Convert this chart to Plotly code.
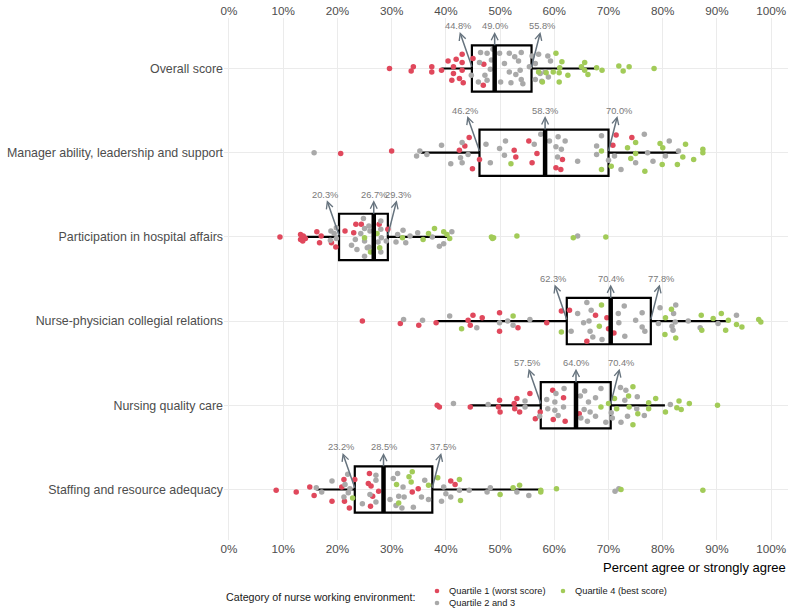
import plotly.graph_objects as go

# ---------------- data ----------------
categories = [
    "Overall score",
    "Manager ability, leadership and support",
    "Participation in hospital affairs",
    "Nurse-physician collegial relations",
    "Nursing quality care",
    "Staffing and resource adequacy",
]
row_pos = [1, 2, 3, 4, 5, 6]

q1_vals = [44.8, 46.2, 20.3, 62.3, 57.5, 23.2]
median_vals = [49.0, 58.3, 26.7, 70.4, 64.0, 28.5]
q3_vals = [55.8, 70.0, 29.3, 77.8, 70.4, 37.5]
whisker_low = [39.2, 35.4, 13.7, 38.2, 44.5, 16.1]
whisker_high = [67.5, 82.9, 40.7, 92.0, 80.4, 57.3]

tick_vals = list(range(0, 101, 10))
tick_text = [f"{v}%" for v in tick_vals]

group_names = ["Quartile 1 (worst score)", "Quartile 2 and 3", "Quartile 4 (best score)"]
group_colors = ["#E0485C", "#A9A9A9", "#A2CB58"]

# hospital points: (percent, vertical jitter in row units)
overall_q1 = [(29.6, 0.00), (33.6, 0.03), (34.0, -0.02), (37.4, -0.02), (37.4, 0.04), (39.2, 0.02),
              (40.4, -0.09), (41.4, -0.02), (41.9, -0.11), (43.0, -0.17), (43.0, -0.07), (41.4, 0.06),
              (43.0, 0.02), (41.1, 0.14), (42.5, 0.12), (43.2, 0.17), (45.0, -0.12), (47.0, -0.05),
              (46.9, 0.20)]
overall_q23 = [(46.4, -0.19), (47.6, -0.18), (48.4, -0.10), (46.2, -0.07), (48.2, 0.01), (47.2, 0.08),
               (46.0, 0.16), (47.6, 0.14), (48.7, -0.23), (49.9, -0.18), (50.8, -0.06), (51.7, -0.18),
               (52.7, -0.14), (53.9, -0.19), (53.4, -0.09), (51.7, 0.04), (52.9, 0.07), (53.7, 0.02),
               (53.9, 0.13), (52.0, 0.17), (50.1, 0.16), (54.2, 0.18), (55.4, -0.02), (55.9, -0.15),
               (57.1, -0.17), (56.5, -0.06), (57.4, 0.06), (58.3, 0.04), (58.8, -0.15), (59.3, -0.09),
               (58.9, 0.10), (57.7, 0.15), (56.5, 0.13), (44.7, 0.08)]
overall_q4 = [(60.3, -0.18), (61.4, -0.08), (61.0, -0.01), (57.1, 0.04), (58.5, 0.05), (59.8, 0.04),
              (60.9, 0.05), (62.5, 0.08), (57.8, 0.16), (60.9, 0.16), (65.0, -0.02), (65.6, -0.07),
              (65.6, 0.02), (66.2, 0.07), (67.8, -0.01), (68.8, 0.02), (71.9, -0.03), (72.7, 0.03),
              (73.8, -0.02), (78.4, 0.00)]

manager_q1 = [(20.6, 0.01), (30.0, -0.02), (44.3, -0.18), (43.5, -0.08), (42.5, -0.03), (44.9, 0.19),
              (46.2, 0.08), (52.6, -0.03), (52.9, 0.05), (55.3, -0.14), (56.8, 0.01), (55.9, 0.12),
              (61.5, 0.08), (60.3, 0.18), (61.2, 0.20), (71.4, -0.21), (70.8, -0.09), (74.3, -0.18)]
manager_q23 = [(15.7, 0.00), (35.2, -0.02), (34.6, 0.04), (36.5, 0.02), (39.2, -0.09), (40.9, 0.13),
               (43.0, -0.12), (42.7, 0.06), (43.0, 0.12), (44.1, 0.02), (47.4, -0.10), (48.2, 0.12),
               (49.9, -0.05), (51.0, -0.14), (50.8, 0.03), (56.3, -0.10), (57.5, -0.22), (59.1, -0.14),
               (60.7, -0.19), (60.3, -0.07), (61.3, -0.04), (62.0, -0.14), (60.6, 0.05), (64.3, 0.10),
               (67.8, -0.08), (68.7, -0.20), (67.8, 0.02), (70.0, 0.09), (71.1, 0.04), (72.3, 0.20),
               (75.0, 0.12), (76.6, -0.22), (77.2, 0.00), (78.2, 0.10), (80.5, 0.04), (81.2, -0.14),
               (82.9, -0.02)]
manager_q4 = [(52.0, 0.13), (68.7, -0.02), (68.7, 0.20), (70.5, 0.16), (73.5, -0.06), (75.0, -0.12),
              (74.1, 0.07), (75.0, 0.01), (76.7, 0.22), (79.5, -0.11), (80.0, -0.06), (79.9, 0.14),
              (82.7, 0.14), (83.7, 0.05), (84.2, -0.10), (85.7, 0.08), (87.4, -0.04), (87.4, 0.00)]

particip_q1 = [(9.4, 0.00), (13.2, -0.03), (13.2, 0.03), (13.7, -0.01), (14.1, 0.02), (13.6, 0.05),
               (16.2, -0.06), (17.0, -0.01), (16.7, 0.07), (18.9, 0.07), (19.7, 0.12), (21.4, -0.07),
               (23.0, -0.05), (23.4, -0.15), (24.4, -0.15), (27.7, -0.15), (29.3, -0.09)]
particip_q23 = [(18.8, -0.07), (18.7, 0.04), (19.4, -0.04), (19.8, -0.11), (19.8, 0.02), (22.6, 0.10),
                (23.6, 0.15), (23.3, 0.03), (24.3, -0.04), (24.8, -0.22), (25.0, -0.10), (25.8, -0.13),
                (26.0, -0.07), (25.0, 0.05), (25.5, 0.13), (25.0, 0.23), (25.8, 0.12), (27.5, 0.06),
                (28.0, -0.19), (28.0, -0.09), (28.1, 0.01), (29.0, 0.05), (28.0, 0.18), (30.8, 0.06),
                (31.1, -0.03), (32.1, -0.08), (32.6, 0.07), (33.4, -0.01), (34.8, -0.05), (37.5, 0.00),
                (38.8, 0.11), (39.6, 0.08), (41.1, -0.06), (64.3, -0.01)]
particip_q4 = [(25.0, 0.01), (27.3, -0.04), (26.1, 0.18), (27.8, 0.13), (32.0, 0.01), (35.8, 0.03),
               (36.8, -0.04), (37.9, -0.10), (39.6, -0.06), (40.2, -0.03), (40.7, 0.02), (48.4, 0.00),
               (48.6, 0.02), (48.8, 0.01), (53.1, -0.01), (63.5, 0.01), (69.5, 0.00)]

physician_q1 = [(24.6, 0.00), (31.6, 0.03), (35.0, 0.05), (38.2, 0.02), (44.1, -0.01), (45.0, -0.07),
                (44.5, 0.05), (46.7, -0.04), (49.9, -0.10), (49.9, 0.12), (53.3, 0.08), (58.6, 0.02),
                (61.3, -0.12), (62.8, -0.13), (67.6, -0.07), (69.7, -0.04), (70.0, 0.09), (71.0, 0.14),
                (66.0, 0.24)]
physician_q23 = [(32.2, -0.02), (35.7, -0.01), (40.7, -0.06), (45.7, 0.08), (49.9, 0.02), (51.4, 0.00),
                 (52.4, 0.05), (55.5, -0.02), (63.1, 0.12), (64.3, -0.09), (65.4, 0.02), (66.0, -0.22),
                 (66.4, 0.00), (66.8, -0.13), (66.6, 0.12), (67.1, 0.19), (68.8, 0.22), (71.9, 0.02),
                 (72.9, -0.18), (71.8, -0.09), (73.0, 0.18), (75.0, -0.01), (76.2, -0.10), (76.2, 0.07),
                 (76.7, 0.12), (79.2, 0.03), (79.5, -0.16), (82.0, -0.09), (82.3, 0.01), (81.7, 0.06),
                 (81.9, 0.11), (82.4, -0.19), (84.7, 0.00), (86.9, 0.08), (90.2, 0.03), (93.6, -0.07)]
physician_q4 = [(42.9, 0.09), (52.4, -0.06), (61.3, 0.13), (68.7, -0.19), (68.3, 0.06), (80.4, 0.16),
                (80.5, -0.04), (81.6, -0.14), (82.4, 0.20), (87.1, -0.07), (87.2, 0.11), (89.3, -0.03),
                (90.8, -0.09), (91.6, 0.11), (92.1, -0.01), (93.6, 0.04), (94.6, 0.07), (97.7, -0.02),
                (98.1, 0.01)]

quality_q1 = [(38.4, 0.00), (38.8, 0.02), (44.5, 0.02), (49.9, -0.06), (49.7, 0.02), (50.0, 0.08),
              (52.6, -0.02), (53.1, -0.08), (52.7, 0.04), (53.6, 0.08), (55.5, -0.14), (56.5, 0.16),
              (57.4, 0.08), (59.7, -0.18), (61.7, -0.09), (59.8, 0.17), (62.0, 0.19), (64.6, 0.10)]
quality_q23 = [(41.4, -0.02), (47.8, -0.01), (54.6, -0.05), (54.6, 0.02), (57.3, 0.13), (58.6, -0.07),
               (58.8, 0.04), (60.3, -0.14), (61.8, -0.20), (60.1, -0.04), (60.1, 0.06), (60.7, 0.12),
               (61.7, 0.02), (64.8, -0.11), (65.6, -0.17), (66.3, -0.04), (65.5, 0.05), (66.6, 0.08),
               (67.6, -0.09), (68.6, -0.20), (67.6, 0.13), (66.1, 0.19), (69.5, 0.20), (64.9, 0.15),
               (70.5, 0.09), (70.7, 0.15), (72.2, -0.21), (73.2, -0.18), (73.0, -0.06), (72.3, 0.20),
               (73.5, 0.13), (75.3, -0.10), (75.2, 0.04), (76.6, 0.12), (81.4, -0.01)]
quality_q4 = [(68.6, 0.02), (70.0, -0.02), (71.1, -0.08), (71.5, 0.04), (73.7, -0.11), (74.5, -0.22),
              (73.8, 0.02), (74.5, 0.23), (75.4, 0.10), (77.4, -0.03), (77.4, 0.04), (78.7, -0.08),
              (80.5, 0.08), (83.0, -0.05), (82.6, 0.03), (83.4, 0.05), (84.9, -0.02), (90.1, 0.00)]

staffing_q1 = [(8.7, 0.01), (12.4, 0.03), (14.9, -0.03), (15.7, 0.07), (19.0, 0.14), (20.8, -0.03),
               (21.2, -0.12), (21.3, 0.14), (22.2, 0.22), (23.2, -0.12), (25.9, -0.19), (25.7, -0.07),
               (26.2, -0.04), (26.5, 0.08), (27.6, 0.02), (26.1, 0.20), (33.8, 0.03), (34.9, -0.01),
               (40.9, -0.10), (41.7, -0.06)]
staffing_q23 = [(16.1, -0.02), (17.1, 0.03), (19.0, -0.10), (21.4, -0.06), (21.9, -0.18), (22.0, 0.04),
                (21.2, 0.09), (22.3, -0.01), (24.6, 0.17), (27.1, -0.17), (27.1, -0.11), (27.1, 0.15),
                (26.0, 0.06), (30.3, -0.13), (31.1, -0.19), (32.1, -0.03), (29.7, 0.12), (30.8, 0.19),
                (31.3, 0.08), (31.9, 0.22), (34.0, 0.21), (32.3, 0.09), (35.5, 0.09), (36.1, -0.11),
                (36.8, 0.12), (39.2, 0.14), (39.6, -0.03), (40.0, 0.05), (40.9, 0.09), (42.5, 0.01),
                (44.3, 0.01), (47.6, 0.03), (48.2, -0.02), (53.1, 0.03), (55.3, 0.07), (71.2, 0.02),
                (71.9, -0.01)]
staffing_q4 = [(22.8, 0.10), (30.9, -0.06), (33.2, -0.15), (33.8, -0.21), (33.6, -0.09), (31.3, 0.16),
               (36.8, -0.05), (38.5, -0.14), (42.5, -0.12), (42.7, 0.13), (50.0, 0.06), (52.4, -0.02),
               (53.6, -0.05), (57.5, 0.01), (57.5, 0.03), (60.4, -0.01), (72.3, 0.00), (87.4, 0.01)]

points_by_row = [
    (overall_q1, overall_q23, overall_q4),
    (manager_q1, manager_q23, manager_q4),
    (particip_q1, particip_q23, particip_q4),
    (physician_q1, physician_q23, physician_q4),
    (quality_q1, quality_q23, quality_q4),
    (staffing_q1, staffing_q23, staffing_q4),
]

# ---------------- style / layout ----------------
FONT = "Liberation Sans, Arial, sans-serif"
BOX_W = 0.55
TEXT_GREY = "#4D4D4D"
GRID = "#EBEBEB"
ARROW_COL = "#66737E"
LABEL_COL = "#7A7A7A"
W, H = 790, 609
ML, MR, MT, MB = 224, 2, 18, 69
PW, PH = W - ML - MR, H - MT - MB


def px_to_paper(px, py):
    return (px - ML) / PW, (H - MB - py) / PH


fig = go.Figure()

# jittered hospital points
for g in range(3):
    xs, ys = [], []
    for r, rowpts in enumerate(points_by_row):
        for (v, dy) in rowpts[g]:
            xs.append(v)
            ys.append(row_pos[r] + dy)
    fig.add_trace(go.Scatter(
        x=xs, y=ys, mode="markers", name=group_names[g],
        marker=dict(color=group_colors[g], size=5.5, line=dict(width=0)),
        showlegend=False, hoverinfo="skip",
    ))

# boxes (precomputed stats)
fig.add_trace(go.Box(
    y=row_pos, q1=q1_vals, median=median_vals, q3=q3_vals,
    lowerfence=whisker_low, upperfence=whisker_high,
    orientation="h", width=BOX_W, whiskerwidth=0,
    fillcolor="rgba(0,0,0,0)", line=dict(color="black", width=2.2),
    boxpoints=False, showlegend=False, hoverinfo="skip",
))

# thick median bars (on the top axis, which matches the bottom one)
mx, my = [], []
for m, r in zip(median_vals, row_pos):
    mx += [m, m, None]
    my += [r - BOX_W / 2, r + BOX_W / 2, None]
fig.add_trace(go.Scatter(
    x=mx, y=my, mode="lines", xaxis="x2",
    line=dict(color="black", width=4.5), showlegend=False, hoverinfo="skip",
))

# arrows + quartile labels
ann = []
for r, q1, md, q3 in zip(row_pos, q1_vals, median_vals, q3_vals):
    for v, dx, y0 in ((q1, -2.6, r - 0.02), (md, 0.0, r - BOX_W / 2), (q3, 1.9, r - 0.02)):
        ann.append(dict(
            x=v, y=y0, xref="x", yref="y",
            ax=v + dx, ay=r - 0.5, axref="x", ayref="y",
            text=f"{v:.1f}%", showarrow=True, arrowside="start",
            startarrowhead=5, startarrowsize=0.9, arrowwidth=1.5, arrowcolor=ARROW_COL,
            font=dict(family=FONT, size=9.3, color=LABEL_COL),
            borderpad=0,
        ))

tx, ty = px_to_paper(788, 567)
ann.append(dict(
    text="Percent agree or strongly agree", xref="paper", yref="paper",
    x=tx, y=ty, xanchor="right", yanchor="middle", showarrow=False,
    font=dict(family=FONT, size=13, color="black"),
))

# legend (drawn as text + dots)
lx, ly = px_to_paper(418, 597)
ann.append(dict(
    text="Category of nurse working environment:", xref="paper", yref="paper",
    x=lx, y=ly, xanchor="right", yanchor="middle", showarrow=False,
    font=dict(family=FONT, size=10.7, color="#1A1A1A"),
))
legend_slots = [(437, 591), (437, 603), (563, 591)]  # dot centre (px) for Q1, Q2&3, Q4
shapes = []
for name, col, (dx_px, dy_px) in zip(group_names, group_colors, legend_slots):
    ax_, ay_ = px_to_paper(dx_px, dy_px)
    shapes.append(dict(
        type="circle", xref="paper", yref="paper", xsizemode="pixel", ysizemode="pixel",
        xanchor=ax_, yanchor=ay_, x0=-2.3, x1=2.3, y0=-2.3, y1=2.3,
        fillcolor=col, line=dict(width=0),
    ))
    tx_, ty_ = px_to_paper(dx_px + 10, dy_px)
    ann.append(dict(
        text=name, xref="paper", yref="paper", x=tx_, y=ty_,
        xanchor="left", yanchor="middle", showarrow=False,
        font=dict(family=FONT, size=9.3, color="#1A1A1A"),
    ))

axis_common = dict(
    range=[-0.92, 103.1], tickvals=tick_vals, ticktext=tick_text,
    tickfont=dict(family=FONT, size=11.7, color=TEXT_GREY),
    showgrid=True, gridcolor=GRID, gridwidth=1, zeroline=False,
    showline=False, ticks="", tickangle=0,
)

fig.update_layout(
    width=W, height=H,
    margin=dict(l=ML, r=MR, t=MT, b=MB),
    plot_bgcolor="white", paper_bgcolor="white",
    font=dict(family=FONT),
    xaxis=dict(**axis_common),
    xaxis2=dict(**axis_common, overlaying="x", side="top", matches="x"),
    yaxis=dict(
        range=[6.6, 0.4], tickvals=row_pos, ticktext=categories,
        tickfont=dict(family=FONT, size=12.4, color=TEXT_GREY),
        showgrid=True, gridcolor=GRID, gridwidth=1, zeroline=False, ticks="",
    ),
    annotations=ann,
    shapes=shapes,
    showlegend=False,
)

fig.write_html(
    "out.html",
    config={"displayModeBar": False, "staticPlot": True},
    post_script="document.body.style.margin='0';document.body.style.overflow='hidden';",
)
